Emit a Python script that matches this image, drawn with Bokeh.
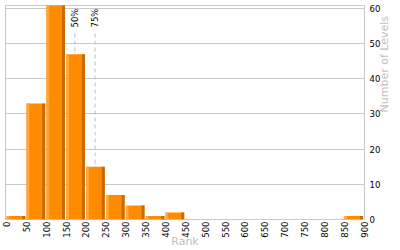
import math
from bokeh.plotting import figure
from bokeh.models import Range1d, FixedTicker
from bokeh.embed import file_html
from bokeh.resources import INLINE
from bokeh.core.properties import value

# ---- data ----
bin_starts = [0, 50, 100, 150, 200, 250, 300, 350, 400, 450,
              500, 550, 600, 650, 700, 750, 800, 850]
counts = [1, 33, 61, 47, 15, 7, 4, 1, 2, 0,
          0, 0, 0, 0, 0, 0, 0, 1]
x_ticks = [0, 50, 100, 150, 200, 250, 300, 350, 400, 450,
           500, 550, 600, 650, 700, 750, 800, 850, 900]
y_ticks = [0, 10, 20, 30, 40, 50, 60]
percentile_names = ["50%", "75%"]
percentile_ranks = [172, 223]
x_title = "Rank"
y_title = "Number of Levels"

FONT = "DejaVu Sans"
GRID = "#c8c8c8"

p = figure(width=400, height=250, output_backend="svg", toolbar_location=None,
           x_range=Range1d(-2.5, 901), y_range=Range1d(0, 60.85),
           min_border_left=5, min_border_right=30, min_border_top=5,
           min_border_bottom=30, y_axis_location="right")
p.background_fill_color = "white"
p.border_fill_color = "white"
p.outline_line_color = GRID

# grid
p.xgrid.grid_line_color = None
p.ygrid.ticker = FixedTicker(ticks=y_ticks)
p.ygrid.grid_line_color = GRID

# percentile dashed lines (behind bars)
p.segment(x0=percentile_ranks, y0=[0] * len(percentile_ranks),
          x1=percentile_ranks, y1=[53.8] * len(percentile_ranks),
          line_color="#c0c0c0", line_width=1, line_dash="4 3")

# bars with a 3d-ish look
bs = [b for b, c in zip(bin_starts, counts) if c > 0]
cs = [c for c in counts if c > 0]
lefts = [b + 0.3 for b in bs]
rights = [b + 47.3 for b in bs]
p.quad(left=lefts, right=rights, bottom=0, top=cs,
       fill_color="#ff8c00", line_color=None)
p.quad(left=lefts, right=[l + 7 for l in lefts], bottom=0, top=cs,
       fill_color="#ffa83f", line_color=None)
p.quad(left=[r - 7.5 for r in rights], right=rights, bottom=0, top=cs,
       fill_color="#c86b00", line_color=None)

# percentile labels
p.text(x=percentile_ranks, y=[54.6] * len(percentile_ranks), text=percentile_names,
       angle=math.pi / 2, text_align="left", text_baseline="alphabetic",
       text_font=value(FONT), text_font_size="8.5px", text_color="black")

# axes
xa = p.xaxis[0]
xa.ticker = FixedTicker(ticks=x_ticks)
xa.major_label_orientation = math.pi / 2
xa.axis_line_color = None
xa.major_tick_line_color = None
xa.minor_tick_line_color = None
xa.major_tick_out = 0
xa.major_tick_in = 0
xa.minor_tick_out = 0
xa.minor_tick_in = 0
xa.major_label_standoff = 2
xa.major_label_text_font = FONT
xa.major_label_text_font_size = "8.5px"
xa.major_label_text_color = "black"
xa.axis_label = x_title
xa.axis_label_standoff = -6
xa.axis_label_text_font = FONT
xa.axis_label_text_font_size = "11px"
xa.axis_label_text_font_style = "normal"
xa.axis_label_text_color = "#c0c0c0"

ya = p.yaxis[0]
ya.ticker = FixedTicker(ticks=y_ticks)
ya.axis_line_color = GRID
ya.major_tick_line_color = None
ya.minor_tick_line_color = None
ya.major_tick_out = 0
ya.major_tick_in = 0
ya.minor_tick_out = 0
ya.minor_tick_in = 0
ya.major_label_standoff = 5
ya.major_label_text_font = FONT
ya.major_label_text_font_size = "8.5px"
ya.major_label_text_color = "black"
ya.axis_label = y_title
ya.axis_label_standoff = 1
ya.axis_label_text_font = FONT
ya.axis_label_text_font_size = "11px"
ya.axis_label_text_font_style = "normal"
ya.axis_label_text_color = "#c0c0c0"
try:
    ya.axis_label_orientation = math.pi / 2
except Exception:
    pass

open("out.html", "w").write(file_html(p, INLINE))
